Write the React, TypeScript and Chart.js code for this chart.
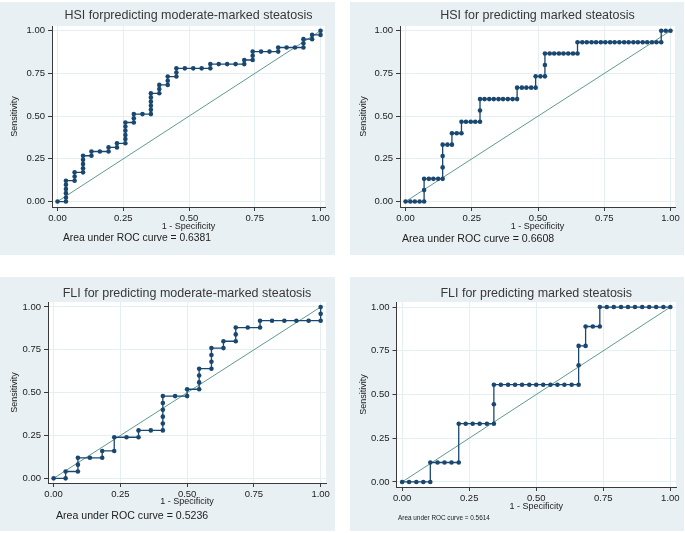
import React, { useEffect, useRef } from 'react';
import { Chart, registerables } from 'chart.js';

Chart.register(...registerables);

const FONT = '"Liberation Sans", Arial, Helvetica, sans-serif';
const NAVY = '#1a476f';
const TEAL = '#5f9c8e';
const PANEL_BG = '#e9f0f3';
const GRID = '#e5eef0';
const AXIS = '#3a3a3a';
const TEXT = '#222222';

const tickValues = [0, 0.25, 0.5, 0.75, 1];
const tickLabels = ['0.00', '0.25', '0.50', '0.75', '1.00'];
const diagX = [0, 1];
const diagY = [0, 1];

// HSI for predicting moderate-marked steatosis
const hsiModFpr = [
  0, 0.032, 0.032, 0.032, 0.032, 0.032, 0.032,
  0.065, 0.065, 0.065,
  0.097, 0.097, 0.097, 0.097, 0.097,
  0.129, 0.129,
  0.161,
  0.194, 0.194,
  0.226, 0.226,
  0.258, 0.258, 0.258, 0.258, 0.258, 0.258,
  0.29, 0.29, 0.29,
  0.323,
  0.355, 0.355, 0.355, 0.355, 0.355, 0.355,
  0.387, 0.387, 0.387,
  0.419, 0.419, 0.419,
  0.452, 0.452, 0.452,
  0.484, 0.516, 0.548,
  0.581, 0.581,
  0.613, 0.645, 0.677,
  0.71, 0.71,
  0.742, 0.742, 0.742,
  0.774, 0.806,
  0.839, 0.839,
  0.871, 0.903,
  0.935, 0.935, 0.935,
  0.968, 0.968,
  1, 1,
];
const hsiModSens = [
  0, 0, 0.024, 0.049, 0.073, 0.098, 0.122,
  0.122, 0.146, 0.171,
  0.171, 0.195, 0.22, 0.244, 0.268,
  0.268, 0.293,
  0.293,
  0.293, 0.317,
  0.317, 0.341,
  0.341, 0.366, 0.39, 0.415, 0.439, 0.463,
  0.463, 0.488, 0.512,
  0.512,
  0.512, 0.537, 0.561, 0.585, 0.61, 0.634,
  0.634, 0.659, 0.683,
  0.683, 0.707, 0.732,
  0.732, 0.756, 0.78,
  0.78, 0.78, 0.78,
  0.78, 0.805,
  0.805, 0.805, 0.805,
  0.805, 0.829,
  0.829, 0.854, 0.878,
  0.878, 0.878,
  0.878, 0.902,
  0.902, 0.902,
  0.902, 0.927, 0.951,
  0.951, 0.976,
  0.976, 1,
];

// HSI for predicting marked steatosis
const hsiMarkFpr = [
  0, 0.018, 0.035, 0.053, 0.07,
  0.07, 0.07,
  0.088, 0.105, 0.123, 0.14,
  0.14, 0.14, 0.14,
  0.158, 0.175,
  0.175,
  0.193, 0.211,
  0.211,
  0.228, 0.246, 0.263, 0.281,
  0.281, 0.281,
  0.298, 0.316, 0.333, 0.351, 0.368, 0.386, 0.404, 0.421,
  0.421,
  0.439, 0.456, 0.474, 0.491,
  0.491,
  0.509, 0.526,
  0.526, 0.526,
  0.544, 0.561, 0.579, 0.596, 0.614, 0.632, 0.649,
  0.649,
  0.667, 0.684, 0.702, 0.719, 0.737, 0.754, 0.772, 0.789, 0.807,
  0.825, 0.842, 0.86, 0.877, 0.895, 0.912, 0.93, 0.947, 0.965,
  0.965,
  0.982, 1,
];
const hsiMarkSens = [
  0, 0, 0, 0, 0,
  0.067, 0.133,
  0.133, 0.133, 0.133, 0.133,
  0.2, 0.267, 0.333,
  0.333, 0.333,
  0.4,
  0.4, 0.4,
  0.467,
  0.467, 0.467, 0.467, 0.467,
  0.533, 0.6,
  0.6, 0.6, 0.6, 0.6, 0.6, 0.6, 0.6, 0.6,
  0.667,
  0.667, 0.667, 0.667, 0.667,
  0.733,
  0.733, 0.733,
  0.8, 0.867,
  0.867, 0.867, 0.867, 0.867, 0.867, 0.867, 0.867,
  0.933,
  0.933, 0.933, 0.933, 0.933, 0.933, 0.933, 0.933, 0.933, 0.933,
  0.933, 0.933, 0.933, 0.933, 0.933, 0.933, 0.933, 0.933, 0.933,
  1,
  1, 1,
];

// FLI for predicting moderate-marked steatosis
const fliModFpr = [
  0,
  0.045, 0.045,
  0.091, 0.091, 0.091,
  0.136,
  0.182, 0.182,
  0.227, 0.227,
  0.273,
  0.318, 0.318,
  0.364,
  0.409, 0.409, 0.409, 0.409, 0.409, 0.409,
  0.455,
  0.5, 0.5,
  0.545, 0.545, 0.545, 0.545,
  0.591, 0.591, 0.591, 0.591,
  0.636, 0.636,
  0.682, 0.682, 0.682,
  0.727,
  0.773, 0.773,
  0.818, 0.864, 0.909, 0.955,
  1, 1, 1,
];
const fliModSens = [
  0,
  0, 0.04,
  0.04, 0.08, 0.12,
  0.12,
  0.12, 0.16,
  0.16, 0.24,
  0.24,
  0.24, 0.28,
  0.28,
  0.28, 0.32, 0.36, 0.4, 0.44, 0.48,
  0.48,
  0.48, 0.52,
  0.52, 0.56, 0.6, 0.64,
  0.64, 0.68, 0.72, 0.76,
  0.76, 0.8,
  0.8, 0.84, 0.88,
  0.88,
  0.88, 0.92,
  0.92, 0.92, 0.92, 0.92,
  0.92, 0.96, 1,
];

// FLI for predicting marked steatosis
const fliMarkFpr = [
  0, 0.026, 0.053, 0.079, 0.105,
  0.105,
  0.132, 0.158, 0.184, 0.211,
  0.211,
  0.237, 0.263, 0.289, 0.316, 0.342,
  0.342, 0.342,
  0.368, 0.395, 0.421, 0.447, 0.474, 0.5, 0.526, 0.553, 0.579, 0.605, 0.632, 0.658,
  0.658, 0.658,
  0.684,
  0.684,
  0.711, 0.737,
  0.737,
  0.763, 0.789, 0.816, 0.842, 0.868, 0.895, 0.921, 0.947, 0.974, 1,
];
const fliMarkSens = [
  0, 0, 0, 0, 0,
  0.111,
  0.111, 0.111, 0.111, 0.111,
  0.333,
  0.333, 0.333, 0.333, 0.333, 0.333,
  0.444, 0.556,
  0.556, 0.556, 0.556, 0.556, 0.556, 0.556, 0.556, 0.556, 0.556, 0.556, 0.556, 0.556,
  0.667, 0.778,
  0.778,
  0.889,
  0.889, 0.889,
  1,
  1, 1, 1, 1, 1, 1, 1, 1, 1, 1,
];

const titles = [
  'HSI forpredicting moderate-marked steatosis',
  'HSI for predicting marked steatosis',
  'FLI for predicting moderate-marked steatosis',
  'FLI for predicting marked steatosis',
];
const aucLabels = [
  'Area under ROC curve = 0.6381',
  'Area under ROC curve = 0.6608',
  'Area under ROC curve = 0.5236',
  'Area under ROC curve = 0.5614',
];

type PanelCfg = {
  left: number; top: number; w: number; h: number;
  area: { l: number; t: number; r: number; b: number };
  xr: [number, number]; yr: [number, number];
  titleY: number; aucX: number; aucY: number; aucSize: number;
  yTitleX: number; xTitleY: number;
};

const layouts: PanelCfg[] = [
  { left: 0, top: 2, w: 335, h: 253, area: { l: 52, t: 24, r: 325, b: 205 }, xr: [-0.021, 1.017], yr: [-0.032, 1.028], titleY: 14, aucX: 63, aucY: 236, aucSize: 10.3, yTitleX: 14.3, xTitleY: 224.5 },
  { left: 350, top: 2, w: 334, h: 253, area: { l: 50, t: 24, r: 325, b: 205 }, xr: [-0.021, 1.017], yr: [-0.032, 1.028], titleY: 14, aucX: 52, aucY: 237, aucSize: 10.6, yTitleX: 13.7, xTitleY: 224.5 },
  { left: 0, top: 277, w: 335, h: 254, area: { l: 48, t: 25, r: 326, b: 206 }, xr: [-0.021, 1.02], yr: [-0.027, 1.029], titleY: 16.3, aucX: 56, aucY: 238.7, aucSize: 10.6, yTitleX: 14.3, xTitleY: 225 },
  { left: 350, top: 277, w: 334, h: 254, area: { l: 46.5, t: 25, r: 326, b: 210 }, xr: [-0.021, 1.021], yr: [-0.029, 1.029], titleY: 16.3, aucX: 48, aucY: 241.3, aucSize: 6.4, yTitleX: 13.7, xTitleY: 229.5 },
];

const fprs = [hsiModFpr, hsiMarkFpr, fliModFpr, fliMarkFpr];
const senss = [hsiModSens, hsiMarkSens, fliModSens, fliMarkSens];

const decorPlugin = {
  id: 'rocDecor',
  beforeDraw(chart: any) {
    const { ctx, chartArea: a, width, height } = chart;
    ctx.save();
    ctx.fillStyle = PANEL_BG;
    ctx.fillRect(0, 0, width, height);
    ctx.fillStyle = '#ffffff';
    ctx.fillRect(a.left, a.top, a.right - a.left, a.bottom - a.top);
    ctx.restore();
  },
  afterDraw(chart: any, _args: any, opts: any) {
    const { ctx, chartArea: a } = chart;
    ctx.save();
    ctx.fillStyle = '#383838';
    ctx.textBaseline = 'middle';
    ctx.textAlign = 'center';
    ctx.font = `12.5px ${FONT}`;
    ctx.fillText(opts.title, (a.left + a.right) / 2, opts.titleY);
    ctx.fillStyle = TEXT;
    ctx.textAlign = 'left';
    ctx.font = `${opts.aucSize}px ${FONT}`;
    ctx.fillText(opts.auc, opts.aucX, opts.aucY);
    ctx.restore();
  },
};

function RocPanel({ idx }: { idx: number }) {
  const ref = useRef<HTMLCanvasElement>(null);
  const cfg = layouts[idx];
  useEffect(() => {
    const fpr = fprs[idx];
    const sens = senss[idx];
    const rocData = fpr.map((x, i) => ({ x, y: sens[i] }));
    const diagData = diagX.map((x, i) => ({ x, y: diagY[i] }));
    const tickFont = { family: FONT, size: 9.5 };
    const axisTitleFont = { family: FONT, size: 9 };
    const chart = new Chart(ref.current as HTMLCanvasElement, {
      type: 'line',
      data: {
        datasets: [
          {
            data: rocData,
            borderColor: NAVY,
            backgroundColor: NAVY,
            borderWidth: 1.3,
            pointRadius: 2.3,
            pointBorderWidth: 0,
            pointBackgroundColor: NAVY,
            tension: 0,
            order: 0,
          },
          {
            data: diagData,
            borderColor: TEAL,
            borderWidth: 1,
            pointRadius: 0,
            tension: 0,
            order: 1,
          },
        ],
      },
      options: {
        animation: false,
        responsive: false,
        devicePixelRatio: window.devicePixelRatio || 1,
        layout: { padding: { left: 0, top: cfg.area.t, right: cfg.w - cfg.area.r, bottom: 0 } },
        plugins: {
          legend: { display: false },
          tooltip: { enabled: false },
          rocDecor: {
            title: titles[idx],
            auc: aucLabels[idx],
            titleY: cfg.titleY,
            aucX: cfg.aucX,
            aucY: cfg.aucY,
            aucSize: cfg.aucSize,
          },
        } as any,
        scales: {
          x: {
            type: 'linear',
            min: cfg.xr[0],
            max: cfg.xr[1],
            afterBuildTicks: (s: any) => { s.ticks = tickValues.map((v) => ({ value: v })); },
            afterFit: (s: any) => { s.height = cfg.h - cfg.area.b; s.paddingLeft = 0; s.paddingRight = 0; },
            ticks: {
              callback: (_v: any, i: number) => tickLabels[i],
              font: tickFont,
              color: TEXT,
              padding: 2,
              maxRotation: 0,
              autoSkip: false,
            },
            grid: { color: GRID, tickColor: AXIS, tickLength: 4, lineWidth: 1 },
            border: { color: AXIS, width: 1 },
            title: {
              display: true,
              text: '1 - Specificity',
              font: axisTitleFont,
              color: TEXT,
              padding: { top: 0, bottom: cfg.h - cfg.xTitleY - 5.4 },
            },
          },
          y: {
            type: 'linear',
            min: cfg.yr[0],
            max: cfg.yr[1],
            afterBuildTicks: (s: any) => { s.ticks = tickValues.map((v) => ({ value: v })); },
            afterFit: (s: any) => { s.width = cfg.area.l; s.paddingTop = 0; s.paddingBottom = 0; },
            ticks: {
              callback: (_v: any, i: number) => tickLabels[i],
              font: tickFont,
              color: TEXT,
              padding: 3,
              autoSkip: false,
            },
            grid: { color: GRID, tickColor: AXIS, tickLength: 4, lineWidth: 1 },
            border: { color: AXIS, width: 1 },
            title: {
              display: true,
              text: 'Sensitivity',
              font: axisTitleFont,
              color: TEXT,
              padding: { top: cfg.yTitleX - 5.4, bottom: 0 },
            },
          },
        },
      } as any,
      plugins: [decorPlugin as any],
    });
    return () => chart.destroy();
  }, [idx]);
  return (
    <div style={{ position: 'absolute', left: cfg.left, top: cfg.top, width: cfg.w, height: cfg.h }}>
      <canvas ref={ref} width={cfg.w} height={cfg.h} style={{ width: cfg.w, height: cfg.h, display: 'block' }} />
    </div>
  );
}

export default function App() {
  return (
    <div style={{ position: 'fixed', left: 0, top: 0, width: 685, height: 533, background: '#ffffff', overflow: 'hidden' }}>
      {[0, 1, 2, 3].map((i) => (
        <RocPanel key={i} idx={i} />
      ))}
    </div>
  );
}
